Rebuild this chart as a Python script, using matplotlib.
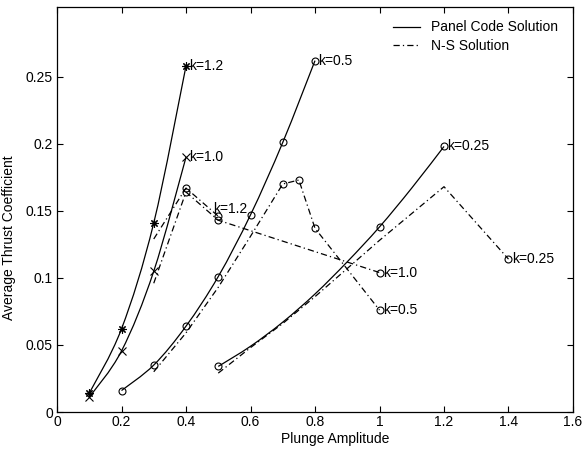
import matplotlib
matplotlib.use("Agg")
import matplotlib.pyplot as plt
from matplotlib.path import Path
from matplotlib.patches import PathPatch

plt.rcParams['font.family'] = ['Liberation Sans', 'DejaVu Sans']
plt.rcParams['font.size'] = 10

# panel code solution (solid lines)
amp_k12 = [0.1, 0.2, 0.3, 0.4]
panel_k12 = [0.014, 0.062, 0.141, 0.258]
amp_k10 = [0.1, 0.2, 0.3, 0.4]
panel_k10 = [0.011, 0.0455, 0.105, 0.190]
amp_k05 = [0.2, 0.3, 0.4, 0.5, 0.6, 0.7, 0.8]
panel_k05 = [0.016, 0.035, 0.064, 0.101, 0.147, 0.201, 0.262]
amp_k025 = [0.5, 0.6, 0.7, 0.8, 0.9, 1.0, 1.1, 1.2]
panel_k025 = [0.034, 0.049, 0.067, 0.088, 0.112, 0.138, 0.167, 0.198]

# N-S solution (dash-dot lines)
ns_amp_k12 = [0.3, 0.4, 0.5]
ns_k12 = [0.129, 0.167, 0.146]
ns_amp_k10 = [0.3, 0.4, 0.5, 1.0]
ns_k10 = [0.096, 0.164, 0.143, 0.104]
ns_amp_k05 = [0.3, 0.4, 0.5, 0.6, 0.7, 0.75, 0.8, 1.0]
ns_k05 = [0.030, 0.059, 0.093, 0.131, 0.170, 0.173, 0.137, 0.076]
ns_amp_k025 = [0.5, 0.6, 0.7, 0.8, 0.9, 1.0, 1.2, 1.4]
ns_k025 = [0.029, 0.048, 0.066, 0.086, 0.107, 0.128, 0.168, 0.114]


def smooth_path(xs, ys):
    # catmull-rom through the points, as cubic bezier segments
    pts = list(zip(xs, ys))
    verts = [pts[0]]
    codes = [Path.MOVETO]
    n = len(pts)
    for i in range(n - 1):
        p0 = pts[i - 1] if i > 0 else pts[i]
        p1 = pts[i]
        p2 = pts[i + 1]
        p3 = pts[i + 2] if i + 2 < n else pts[i + 1]
        c1 = (p1[0] + (p2[0] - p0[0]) / 6, p1[1] + (p2[1] - p0[1]) / 6)
        c2 = (p2[0] - (p3[0] - p1[0]) / 6, p2[1] - (p3[1] - p1[1]) / 6)
        verts += [c1, c2, p2]
        codes += [Path.CURVE4] * 3
    return Path(verts, codes)


fig = plt.figure(figsize=(5.82, 4.49), dpi=100)
ax = fig.add_axes([57 / 582, 1 - 412 / 449, 516 / 582, 405 / 449])

lw = 0.9
dd = (5, 2.5, 1, 2.5)
circ = dict(marker='o', markersize=5, markerfacecolor='none', markeredgecolor='k', markeredgewidth=0.8)

for xs, ys in [(amp_k12, panel_k12), (amp_k10, panel_k10), (amp_k05, panel_k05), (amp_k025, panel_k025)]:
    ax.add_patch(PathPatch(smooth_path(xs, ys), facecolor='none', edgecolor='k', lw=lw))

ax.plot(amp_k12, panel_k12, 'k', ls='none', marker=(8, 2, 0), markersize=6, markeredgewidth=0.8)
ax.plot(amp_k10, panel_k10, 'k', ls='none', marker='x', markersize=6, markeredgewidth=0.8)
ax.plot(amp_k05, panel_k05, 'k', ls='none', **circ)
ax.plot(amp_k025, panel_k025, 'k', ls='none', markevery=[0, 5, 7], **circ)

ax.plot(ns_amp_k12, ns_k12, 'k', lw=lw, dashes=dd, markevery=[1, 2], **circ)
ax.plot(ns_amp_k10, ns_k10, 'k', lw=lw, dashes=dd, markevery=[1, 2, 3], **circ)
ax.plot(ns_amp_k05, ns_k05, 'k', lw=lw, dashes=dd, markevery=[4, 5, 6, 7], **circ)
ax.plot(ns_amp_k025, ns_k025, 'k', lw=lw, dashes=dd, markevery=[7], **circ)

# curve labels, next to the end points
ends = [
    ('k=1.2', amp_k12[-1], panel_k12[-1]),
    ('k=1.0', amp_k10[-1], panel_k10[-1]),
    ('k=0.5', amp_k05[-1], panel_k05[-1]),
    ('k=0.25', amp_k025[-1], panel_k025[-1]),
    ('k=1.0', ns_amp_k10[-1], ns_k10[-1]),
    ('k=0.5', ns_amp_k05[-1], ns_k05[-1]),
    ('k=0.25', ns_amp_k025[-1], ns_k025[-1]),
]
for txt, x, y in ends:
    ax.annotate(txt, (x, y), xytext=(2.5, 0), textcoords='offset points',
                ha='left', va='center', fontsize=10)
ax.annotate('k=1.2', (ns_amp_k12[-1], ns_k12[-1]), xytext=(-4, 5), textcoords='offset points',
            ha='left', va='center', fontsize=10)

# legend handles
ax.plot([], [], 'k-', lw=lw, label='Panel Code Solution')
ax.plot([], [], 'k', lw=lw, dashes=dd, label='N-S Solution')
h, l = ax.get_legend_handles_labels()
ax.legend(h[-2:], l[-2:], loc='upper left', bbox_to_anchor=(0.651, 0.967), frameon=False,
          borderpad=0, borderaxespad=0, handlelength=1.95, handletextpad=0.8, labelspacing=0.3,
          fontsize=10)

ax.set_xlim(0, 1.6)
ax.set_ylim(0, 0.302)
ax.set_xticks([0, 0.2, 0.4, 0.6, 0.8, 1, 1.2, 1.4, 1.6])
ax.set_xticklabels(['0', '0.2', '0.4', '0.6', '0.8', '1', '1.2', '1.4', '1.6'])
ax.set_yticks([0, 0.05, 0.1, 0.15, 0.2, 0.25])
ax.set_yticklabels(['0', '0.05', '0.1', '0.15', '0.2', '0.25'])
ax.tick_params(direction='in', top=True, right=True, length=4, width=0.8, labelsize=10, pad=2)
ax.tick_params(axis='y', pad=3)
for s in ax.spines.values():
    s.set_linewidth(0.9)

ax.set_xlabel('Plunge Amplitude', fontsize=10)
ax.set_ylabel('Average Thrust Coefficient', fontsize=10)
ax.xaxis.set_label_coords(0.539, -0.05)
ax.yaxis.set_label_coords(-0.079, 0.43)

fig.savefig('out.png', dpi=100)
